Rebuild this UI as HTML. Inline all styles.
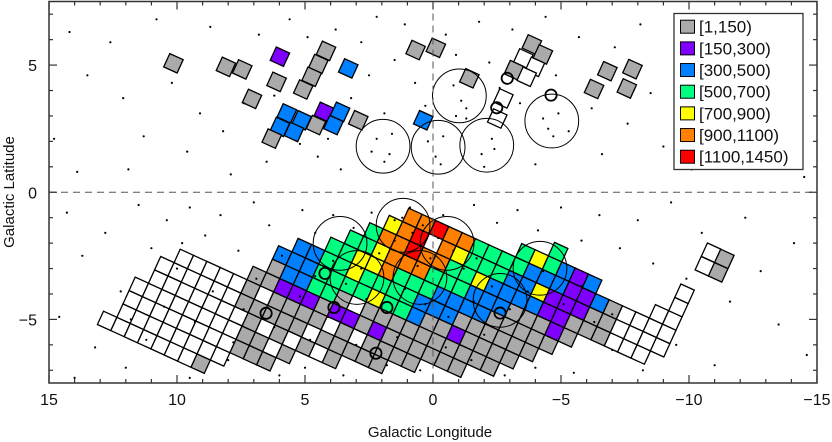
<!DOCTYPE html>
<html><head><meta charset="utf-8"><style>
html,body{margin:0;padding:0;background:#fff;}
svg{display:block;font-family:"Liberation Sans",sans-serif;}
</style></head><body>
<svg id="chart" width="832" height="442" viewBox="0 0 832 442" xmlns="http://www.w3.org/2000/svg">
<g id="tiles"></g>
<g id="dots"></g>
<g id="circles"></g>
<g id="axes"></g>
<g id="legend"></g>
<text x="430" y="437" font-size="15" text-anchor="middle" fill="#111">Galactic Longitude</text>
<text x="0" y="0" font-size="15" text-anchor="middle" fill="#111" transform="translate(14,192) rotate(-90)">Galactic Latitude</text>
</svg>
<script>
// ---- data ----
const binLabels = ["[1,150)","[150,300)","[300,500)","[500,700)","[700,900)","[900,1100)","[1100,1450)"];
const binCodes = ["G","P","B","N","Y","O","R"];
const binColors = ["#aaaaaa","#7f00ff","#0080ff","#00ff80","#ffff00","#ff8000","#ff0000"];
// band tiles: lattice column index, starting row, codes bottom->top (W = no data, . = none)
const colA = [-17,-16,-15,-14,-13,-12,-11,-10,-9,-8,-7,-6,-5,-4,-3,-2,-1,0,1,2,3,4,5,6,7,8,9,10,11,12,13,14,15,16,17,18];
const colB0 = [-13,-13,-13,-13,-13,-13,-13,-13,-12,-11,-11,-11,-10,-9,-9,-9,-8,-8,-8,-7,-7,-6,-6,-6,-5,-5,-4,-3,-2,-1,0,0,0,0,0,1];
const colCodes = ["W","WWWW","WWWWWW","WWWWWWW","WWWWWWW","WWWWWWW","WWWWWWW","GWWWWWW","WWWWGGG","GGGGWGGB","GGWGGPBBB","GWGGGPBBB","GWGGPNNNN","GWGGNNNNN","WGWPGNYYNN","GGGPWNNYYOY","GWGGYNOOOOO","GGPGNNNORRO","GGGGNNNOO.R","GGGBBNNOOO","GGGGBBNNYO","GGGBBNNNN","GGPGBBYNN","GGGGBBBNN","GGGGBBBNN","GGGGGBBBY","GGGGBYBNN","GGGPPBB","GPPPPP","GGPPB","GGB","GGG","WWW","WWW","WWWW","WWWWW"];
// isolated tiles (galactic l, b, code)
const tileL = [10.14,8.09,7.45,5.98,6.11,7.07,4.18,4.48,4.74,5.07,3.31,5.71,5.13,5.98,5.43,6.30,4.57,4.26,3.63,3.89,2.92,0.68,-0.11,-1.42,0.38,-3.86,-4.29,-3.53,-3.98,-3.16,-3.66,-2.75,-2.51,-6.81,-7.79,-6.29,-7.57,-10.86,-11.38,-10.62,-11.14];
const tileB = [5.07,4.93,4.83,5.33,4.34,3.67,5.56,5.04,4.54,4.04,4.87,3.10,2.83,2.57,2.37,2.11,2.64,3.16,3.16,2.64,2.83,5.59,5.68,4.48,2.83,5.81,5.42,5.26,4.93,4.80,4.54,3.69,2.90,4.76,4.84,4.06,4.08,-2.38,-2.62,-2.91,-3.15];
const tileCode = ["G","G","G","P","G","G","G","G","G","G","B","B","B","B","B","G","G","P","B","B","G","G","G","G","B","G","G","W","W","G","W","W","W","G","G","G","G","W","G","W","G"];
// large fields (circles) and small fields
const bigL = [1.95,-0.20,-1.03,-2.10,-4.64,3.63,1.17,-0.55,2.97,0.51,-2.62,-4.18];
const bigB = [1.81,1.77,3.79,1.85,2.80,-2.01,-1.30,-2.01,-3.35,-3.35,-4.25,-2.99];
const smallL = [-2.90,-2.49,-4.61,4.22,6.52,3.87,1.80,-2.62,2.23];
const smallB = [4.48,3.32,3.82,-3.19,-4.76,-4.53,-4.53,-4.75,-6.33];
// stars
const starL = [14.2,13.5,14.8,13.9,12.6,12.1,11.3,10.8,11.9,10.2,9.6,9.1,8.7,8.2,7.9,7.4,6.8,6.5,6.2,5.6,5.2,4.9,4.5,4.1,3.8,3.6,3.2,2.8,2.5,2.2,1.9,1.5,1.1,0.7,0.3,-0.5,-0.9,-1.3,-1.8,-2.2,-2.6,-3.1,-3.4,-4.0,-4.4,-4.8,-5.3,-5.7,-6.2,-6.6,-7.1,-7.6,-8.1,-8.5,-9.0,-9.5,-10.1,-10.6,-11.2,-11.8,-12.4,-12.9,-13.6,-14.1,-14.5,
1.7,2.2,1.9,2.4,1.6,-0.1,-0.4,0.2,-0.3,-1.1,-0.8,-1.3,-0.9,-1.9,-2.3,-2.0,-2.4,-4.5,-4.9,-4.3,-4.7,
14.3,13.7,14.6,13.2,14.0,12.8,12.2,11.5,11.0,10.4,9.5,9.8,8.9,8.3,7.6,7.0,6.4,5.9,5.1,4.6,3.9,3.1,2.4,1.5,0.9,-0.4,-1.6,-2.5,-3.3,-4.1,-5.0,-5.8,-6.5,-7.3,-8.0,-8.6,-9.3,-9.9,-10.5,-11.6,-12.2,-12.8,-13.5,-14.1,-14.6,-11.0,-9.5,-8.2,-7.0,-5.5,-4.0,-2.8,-1.5,0.5,1.8,3.5,5.0,6.0,8.0,9.5,11.2,12.0,10.5,11.8,
0.8,1.2,0.4,1.5,-0.2,0.1,0.6,-0.8,-1.2,-1.7,2.1,2.8,3.4,3.9,4.6,5.2,4.1,2.6,1.1,0.3,-0.6,-1.6,-2.3,-3.0,-3.7,-4.3,-5.1,-5.8,-6.3,-7.0,-2.0,-0.5,1.4,3.0,4.8,6.2,7.4,8.6,9.3,10.0,7.8,6.9];
const starB = [6.3,4.6,2.1,0.8,5.9,3.7,2.2,6.8,0.9,4.3,1.6,3.1,6.5,2.4,0.7,3.5,6.2,1.2,3.8,6.8,1.9,6.1,1.4,2.1,6.4,0.9,3.7,5.9,4.6,6.9,3.1,5.2,6.6,4.3,3.4,6.2,5.4,2.9,6.7,5.1,4.1,6.4,3.5,1.1,6.9,4.6,2.4,6.1,3.3,1.5,5.7,2.7,6.6,3.9,1.8,5.1,0.9,4.0,6.0,2.5,4.8,1.3,3.6,5.6,0.6,
1.5,2.1,1.2,1.6,2.3,1.4,2.2,2.0,1.1,3.6,4.2,3.3,3.0,1.5,2.1,1.0,1.7,2.5,3.1,2.9,2.2,
-0.8,-2.5,-4.9,-6.1,-7.3,-1.6,-3.9,-0.5,-2.2,-1.1,-0.6,-2.0,-1.7,-0.9,-2.3,-0.4,-1.3,-2.5,-0.7,-1.6,-0.9,-1.4,-0.8,-1.1,-0.6,-0.9,-0.5,-1.2,-0.7,-1.5,-0.6,-1.9,-0.9,-2.2,-1.1,-2.8,-0.4,-3.4,-1.6,-4.3,-1.0,-3.1,-5.2,-2.0,-6.4,-6.8,-6.0,-7.0,-6.2,-7.1,-6.9,-7.2,-6.6,-7.0,-6.8,-7.2,-6.9,-7.2,-6.6,-7.3,-5.8,-6.9,-4.5,-5.0,
-1.6,-1.0,-1.3,-1.9,-1.8,-2.6,-2.9,-2.3,-3.0,-2.6,-2.4,-3.0,-3.6,-2.7,-3.3,-4.1,-4.9,-4.2,-3.8,-4.4,-4.9,-4.3,-3.7,-4.6,-3.9,-3.1,-4.4,-3.7,-5.1,-4.8,-5.6,-6.1,-5.7,-6.0,-5.8,-5.3,-4.6,-3.9,-5.1,-3.0,-5.9,-3.4];

// ---- geometry ----
const X0 = 49, X1 = 817, Y0 = 1.5, Y1 = 383;
function xs(l){ return X0 + (15 - l) * (X1 - X0) / 30; }
function ys(b){ return Y0 + (7.5 - b) * (Y1 - Y0) / 15; }
const NS = "http://www.w3.org/2000/svg";
function mk(tag, attrs, parent){ const e = document.createElementNS(NS, tag); for (const k in attrs) e.setAttribute(k, attrs[k]); parent.appendChild(e); return e; }
// lattice: origin (galactic) and step vectors in degrees
const latL0 = 0.76, latB0 = -2.30;
const uL = -0.522, uB = -0.240, vL = -0.238, vB = 0.526;
const UX = 13.37, UY = 6.1; // rotated square half-diagonal vectors (px)
function colorOf(code){ if (code === "W") return "#ffffff"; return binColors[binCodes.indexOf(code)]; }
function drawTile(cx, cy, code, parent){
  const hx = UX/2, hy = UY/2; // u/2 ; v/2 = (hy, -hx)
  const pts = [[cx - hx + hy, cy - hy - hx],[cx + hx + hy, cy + hy - hx],[cx + hx - hy, cy + hy + hx],[cx - hx - hy, cy - hy + hx]];
  const p = mk("polygon", {points: pts.map(q => q[0].toFixed(1)+","+q[1].toFixed(1)).join(" "), fill: colorOf(code), stroke:"#000", "stroke-width":"1.3", "stroke-linejoin":"miter"}, parent);
  
  
}
const gT = document.getElementById("tiles");
for (let i = 0; i < colA.length; i++){
  const a = colA[i], s = colCodes[i];
  for (let k = 0; k < s.length; k++){
    const code = s[k]; if (code === ".") continue;
    const b = colB0[i] + k;
    const l = latL0 + a*uL + b*vL, bb = latB0 + a*uB + b*vB;
    drawTile(xs(l), ys(bb), code, gT);
  }
}
for (let i = 0; i < tileL.length; i++) drawTile(xs(tileL[i]), ys(tileB[i]), tileCode[i], gT);

const gD = document.getElementById("dots");
for (let i = 0; i < starL.length; i++){
  const c = mk("circle", {cx: xs(starL[i]).toFixed(1), cy: ys(starB[i]).toFixed(1), r: 1.1, fill: "#000"}, gD);
  
  
}
const gC = document.getElementById("circles");
const pxPerDeg = (X1 - X0) / 30;
for (let i = 0; i < bigL.length; i++){
  const c = mk("circle", {cx: xs(bigL[i]), cy: ys(bigB[i]), r: 1.05*pxPerDeg, fill: "none", stroke: "#000", "stroke-width": "1"}, gC);
  
  
}
for (let i = 0; i < smallL.length; i++){
  const c = mk("circle", {cx: xs(smallL[i]), cy: ys(smallB[i]), r: 0.22*pxPerDeg, fill: "none", stroke: "#000", "stroke-width": "1.8"}, gC);
  
  
}

// ---- axes ----
const gA = document.getElementById("axes");
const zx = mk("line", {x1: xs(0), x2: xs(0), y1: Y0, y2: Y1, stroke: "#555", "stroke-width": "1", "stroke-dasharray": "7,5"}, gA);


const zy = mk("line", {x1: X0, x2: X1, y1: ys(0), y2: ys(0), stroke: "#555", "stroke-width": "1", "stroke-dasharray": "7,5"}, gA);


const fr = mk("rect", {x: X0, y: Y0, width: X1 - X0, height: Y1 - Y0, fill: "none", stroke: "#333", "stroke-width": "1.5"}, gA);


const xTickVals = [15,10,5,0,-5,-10,-15];
const yTickVals = [5,0,-5];
for (let l = -15; l <= 15; l++){
  const major = l % 5 === 0, len = major ? 8 : 4, x = xs(l);
  mk("line", {x1: x, x2: x, y1: Y1, y2: Y1 - len, stroke: "#333", "stroke-width": "1.2"}, gA);
  mk("line", {x1: x, x2: x, y1: Y0, y2: Y0 + len, stroke: "#333", "stroke-width": "1.2"}, gA);
}
for (let b = -7; b <= 7; b++){
  const major = b % 5 === 0, len = major ? 8 : 4, y = ys(b);
  mk("line", {x1: X0, x2: X0 + len, y1: y, y2: y, stroke: "#333", "stroke-width": "1.2"}, gA);
  mk("line", {x1: X1, x2: X1 - len, y1: y, y2: y, stroke: "#333", "stroke-width": "1.2"}, gA);
}
xTickVals.forEach(v => {
  const t = mk("text", {x: xs(v), y: 405, "font-size": "16", "text-anchor": "middle", fill: "#111"}, gA);
  t.textContent = v < 0 ? "\u2212" + (-v) : String(v);
  
  
});
yTickVals.forEach(v => {
  const t = mk("text", {x: 37, y: ys(v) + 6, "font-size": "16", "text-anchor": "end", fill: "#111"}, gA);
  t.textContent = v < 0 ? "\u2212" + (-v) : String(v);
  
  
});

// ---- legend ----
const gL = document.getElementById("legend");
const lb = mk("rect", {x: 674, y: 13.5, width: 129, height: 156, fill: "#fff", stroke: "#333", "stroke-width": "1.3"}, gL);


binLabels.forEach((lab, i) => {
  const y = 26.7 + i * 21.67;
  const sw = mk("rect", {x: 680.5, y: y - 6.5, width: 14, height: 13, fill: binColors[i], stroke: "#000", "stroke-width": "1"}, gL);
  
  
  const t = mk("text", {x: 699, y: y + 6, "font-size": "17", fill: "#111"}, gL);
  t.textContent = lab;
  
  
});
</script>
</body></html>
